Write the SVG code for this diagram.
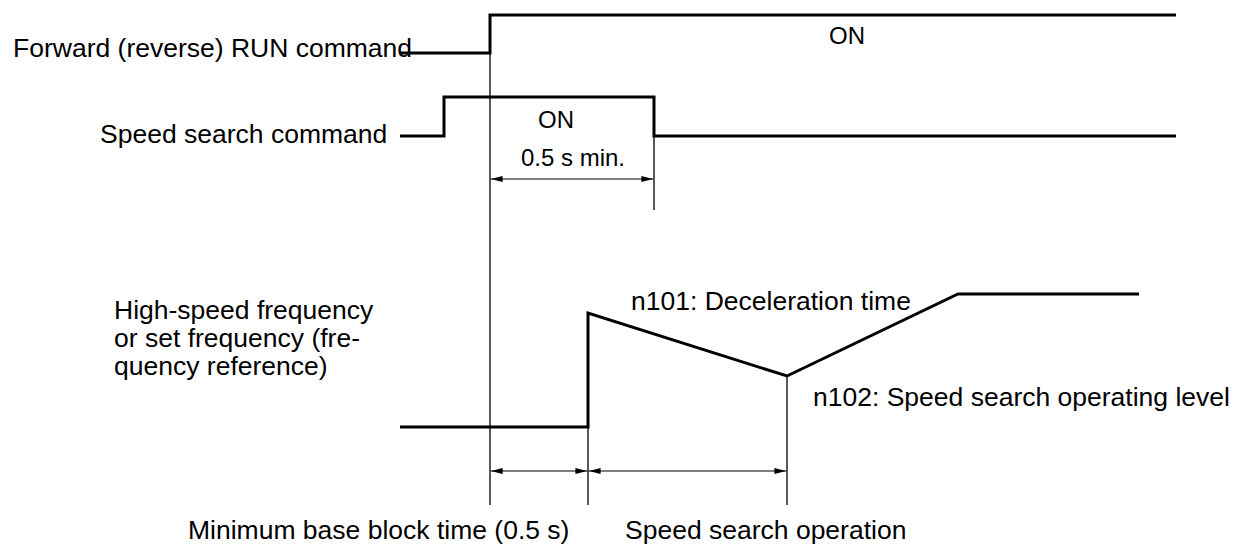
<svg xmlns="http://www.w3.org/2000/svg" width="1236" height="545" viewBox="0 0 1236 545">
<style>
text{font-family:"Liberation Sans",Arial,sans-serif;font-size:26.5px;fill:#000}
.sm{font-size:24px}
.sig{fill:none;stroke:#000;stroke-width:3;stroke-linejoin:miter}
.thin{fill:none;stroke:#000;stroke-width:1.3}
.dim{fill:none;stroke:#000;stroke-width:1;marker-start:url(#ah);marker-end:url(#ah)}
</style>
<defs>
<marker id="ah" viewBox="0 0 12 6" refX="12" refY="3" markerWidth="12" markerHeight="6" markerUnits="userSpaceOnUse" orient="auto-start-reverse">
<path d="M0,0 L12,3 L0,6 Z" fill="#000"/>
</marker>
</defs>
<g id="labels">
<text id="lbl-run" x="13" y="57">Forward (reverse) RUN command</text>
<text id="lbl-ss" x="100" y="143">Speed search command</text>
<text id="lbl-freq" x="114" y="319">High-speed frequency<tspan x="114" dy="28">or set frequency (fre-</tspan><tspan x="114" dy="28">quency reference)</tspan></text>
<text id="lbl-on1" class="sm" x="829" y="44">ON</text>
<text id="lbl-on2" class="sm" x="538" y="128">ON</text>
<text id="lbl-min" class="sm" x="521" y="166">0.5 s min.</text>
<text id="lbl-n101" x="631" y="310">n101: Deceleration time</text>
<text id="lbl-n102" x="813" y="406">n102: Speed search operating level</text>
<text id="lbl-bb" x="188" y="539">Minimum base block time (0.5 s)</text>
<text id="lbl-sso" x="625" y="539">Speed search operation</text>
</g>
<g id="signals">
<polyline id="sig-run" class="sig" points="400,53 490,53 490,15 1176,15"/>
<polyline id="sig-ss" class="sig" points="400,136 444,136 444,97 654,97 654,136 1176,136"/>
<polyline id="sig-freq" class="sig" points="400,427 588,427 588,313 787,376 958,294 1139,294"/>
</g>
<g id="connectors">
<line class="thin" x1="490" y1="15" x2="490" y2="505"/>
<line class="thin" x1="654" y1="97" x2="654" y2="210"/>
<line class="thin" x1="588" y1="427" x2="588" y2="505"/>
<line class="thin" x1="787" y1="376" x2="787" y2="505"/>
<line class="dim" x1="490.6" y1="179" x2="653.4" y2="179"/>
<line class="dim" x1="490.6" y1="471" x2="587.4" y2="471"/>
<line class="dim" x1="588.6" y1="471" x2="786.4" y2="471"/>
</g>
</svg>
